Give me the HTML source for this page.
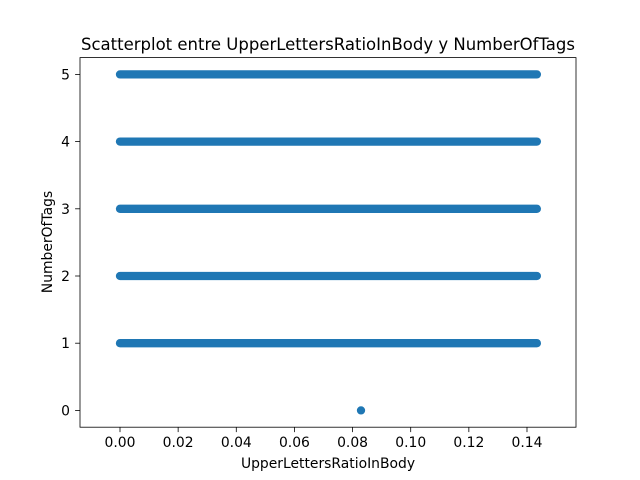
<!DOCTYPE html>
<html><head><meta charset="utf-8"><style>body{margin:0;background:#fff}svg{display:block;font-family:"DejaVu Sans","Liberation Sans",sans-serif}</style></head>
<body>
<svg id="chart" width="640" height="480" viewBox="0 0 640 480">
<rect width="640" height="480" fill="#fff"/>
<text x="328" y="50" font-size="16.5" text-anchor="middle">Scatterplot entre UpperLettersRatioInBody y NumberOfTags</text>
<g id="marks"></g>
<g id="axes"></g>
<rect x="80" y="57.6" width="496" height="369.6" fill="none" stroke="#000" stroke-width="0.8"/>
<text x="328" y="468" font-size="13.9" text-anchor="middle">UpperLettersRatioInBody</text>
<text transform="translate(52,242) rotate(-90)" font-size="13.9" text-anchor="middle">NumberOfTags</text>
</svg>
<script>
const levels = [1, 2, 3, 4, 5];
const levelMin = [0.0, 0.0, 0.0, 0.0, 0.0];
const levelMax = [0.1434, 0.1434, 0.1434, 0.1434, 0.1434];
const singleX = [0.0829];
const singleY = [0];
const xTicks = [0.00, 0.02, 0.04, 0.06, 0.08, 0.10, 0.12, 0.14];
const yTicks = [0, 1, 2, 3, 4, 5];

const X0 = 80, X1 = 576, Y0 = 427.2, Y1 = 57.6;
const xMin = -0.01376, xMax = 0.15686, yMin = -0.25, yMax = 5.25;
const sx = v => X0 + (v - xMin) / (xMax - xMin) * (X1 - X0);
const sy = v => Y0 - (v - yMin) / (yMax - yMin) * (Y0 - Y1);
const NS = 'http://www.w3.org/2000/svg';
const marks = document.getElementById('marks');
const axes = document.getElementById('axes');
const C = '#1f77b4', R = 4.15;

levels.forEach((lv, i) => {
  const l = document.createElementNS(NS, 'line');
  
  
  l.setAttribute('x1', sx(levelMin[i])); l.setAttribute('x2', sx(levelMax[i]));
  l.setAttribute('y1', sy(lv)); l.setAttribute('y2', sy(lv));
  l.setAttribute('stroke', C); l.setAttribute('stroke-width', 2 * R); l.setAttribute('stroke-linecap', 'round');
  marks.appendChild(l);
});
singleX.forEach((x, i) => {
  const c = document.createElementNS(NS, 'circle');
  
  
  c.setAttribute('cx', sx(x)); c.setAttribute('cy', sy(singleY[i])); c.setAttribute('r', R);
  c.setAttribute('fill', C);
  marks.appendChild(c);
});
xTicks.forEach(t => {
  const x = sx(t);
  const l = document.createElementNS(NS, 'line');
  
  
  l.setAttribute('x1', x); l.setAttribute('x2', x); l.setAttribute('y1', Y0); l.setAttribute('y2', Y0 + 4.9);
  l.setAttribute('stroke', '#000'); l.setAttribute('stroke-width', 0.8);
  axes.appendChild(l);
  const tx = document.createElementNS(NS, 'text');
  
  
  tx.setAttribute('x', x); tx.setAttribute('y', Y0 + 20); tx.setAttribute('font-size', 13.9);
  tx.setAttribute('text-anchor', 'middle');
  tx.textContent = t.toFixed(2);
  axes.appendChild(tx);
});
yTicks.forEach(t => {
  const y = sy(t);
  const l = document.createElementNS(NS, 'line');
  
  
  l.setAttribute('x1', X0 - 4.9); l.setAttribute('x2', X0); l.setAttribute('y1', y); l.setAttribute('y2', y);
  l.setAttribute('stroke', '#000'); l.setAttribute('stroke-width', 0.8);
  axes.appendChild(l);
  const tx = document.createElementNS(NS, 'text');
  
  
  tx.setAttribute('x', X0 - 10); tx.setAttribute('y', y + 5); tx.setAttribute('font-size', 13.9);
  tx.setAttribute('text-anchor', 'end');
  tx.textContent = t;
  axes.appendChild(tx);
});
</script>
</body></html>
